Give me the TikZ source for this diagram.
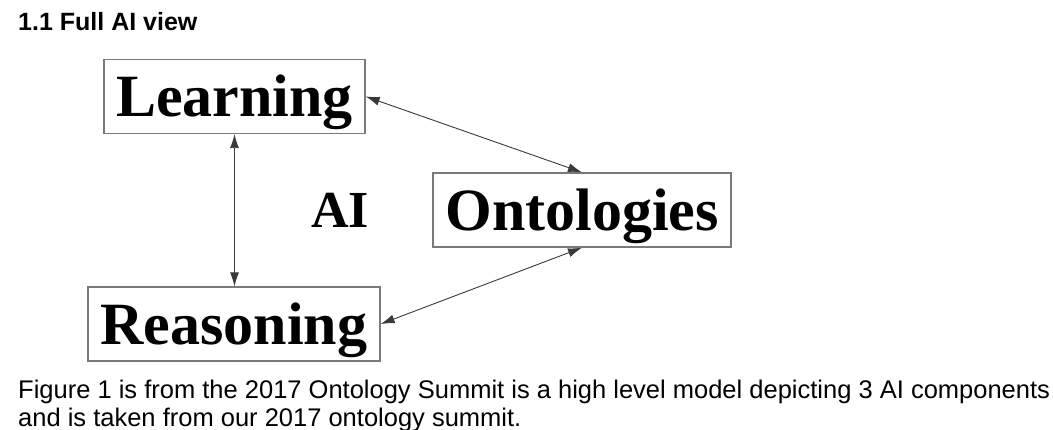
\documentclass[tikz,border=0pt]{standalone}
\usepackage{fontspec}
\setmainfont{Liberation Serif}
\newfontfamily\capfont{Liberation Sans}
\usetikzlibrary{arrows.meta}
\definecolor{boxgray}{HTML}{7A7A7A}
\definecolor{linegray}{HTML}{3A3A3A}
\begin{document}
\begin{tikzpicture}[x=1pt,y=-1pt,
  box/.style={draw=boxgray, line width=1.3pt, minimum height=74pt, inner sep=0pt,
    text height=50pt, text depth=10pt,
    font=\bfseries\fontsize{60}{60}\selectfont},
  tip/.tip={Latex[length=14pt,width=9pt]},
  link/.style={draw=linegray, line width=0.9pt, {tip}-{tip}},
  lbl/.style={inner sep=0pt, anchor=base west}]
\useasboundingbox (0,0) rectangle (1053,429);
\fill[white] (0,0) rectangle (1053,429);
\node[lbl, font=\capfont\bfseries\fontsize{25}{25}\selectfont] (title) at (18,30) {1.1 Full AI view};
\node[box, minimum width=261pt] (learn) at (234.5,96.5) {Learning};
\node[box, minimum width=298pt] (onto) at (582,210) {Ontologies};
\node[box, minimum width=292pt] (reas) at (234,324) {Reasoning};
\node[inner sep=0pt, anchor=base, font=\bfseries\fontsize{52}{52}\selectfont] (ai) at (340,227) {AI};
\draw[link] (learn.south) -- (learn.south |- reas.north);
\draw[link] (learn.east) -- (onto.north);
\draw[link] (reas.east) -- (onto.south);
\node[lbl, font=\capfont\fontsize{25.5}{28}\selectfont, align=left, anchor=north west] (cap) at (18,380)
  {Figure 1 is from the 2017 Ontology Summit is a high level model depicting 3 AI components\\
   and is taken from our 2017 ontology summit.};
\end{tikzpicture}
\end{document}
